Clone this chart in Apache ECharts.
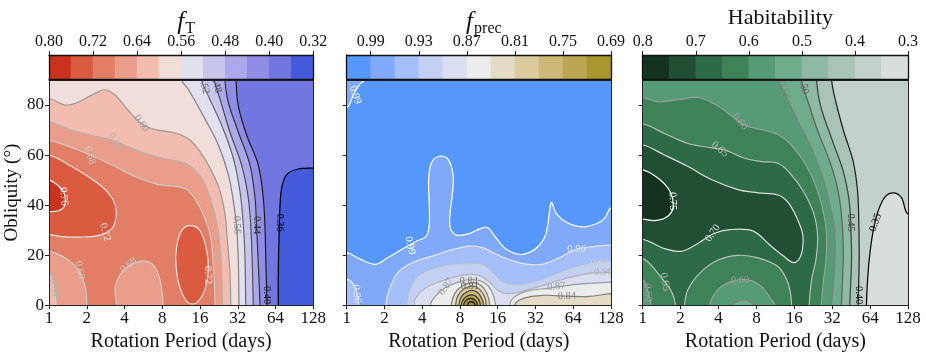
<!DOCTYPE html>
<html>
<head>
<meta charset="utf-8">
<script src="https://cdn.jsdelivr.net/npm/echarts@6.0.0/dist/echarts.min.js"></script>
<style>
html,body{margin:0;padding:0;background:#ffffff;}
#chart{width:926px;height:357px;}
</style>
</head>
<body>
<div id="chart"></div>
<script>
// ================= DATA =================
const periodTicks = [1, 2, 4, 8, 16, 32, 64, 128];
const obliquityTicks = [0, 20, 40, 60, 80];

// ---- f_T ----
const fT_binEdges = [0.80,0.76,0.72,0.68,0.64,0.60,0.56,0.52,0.48,0.44,0.40,0.36,0.32];
const fT_tickLabels = [0.80,0.72,0.64,0.56,0.48,0.40,0.32];
// contour lines: [rotation period (days), obliquity (deg)]
const fT_c036 = [[128,54.8],[97,54.4],[78.5,52.2],[71.6,46.9],[69.4,39],[68.2,25.9],[67.3,12.7],[67.3,0]];
const fT_c040 = [[31,90],[32.3,79.7],[37.7,67.9],[46.6,56.1],[51.1,42.9],[52.7,31.1],[53.7,15.4],[54.7,0]];
const fT_c044 = [[25.3,90],[26.9,81.1],[32.3,69.2],[40,56.1],[43.9,42.9],[45.2,31.1],[46.6,16.7],[48.1,0]];
const fT_c048 = [[20.8,90],[23.1,82.4],[27.7,69.2],[34.3,56.1],[38.8,42.9],[40.8,29.8],[41.8,15.4],[42.5,0]];
const fT_c052 = [[16.5,90],[18.6,83.7],[23.8,71.9],[29.5,58.7],[33.3,45.6],[35.4,32.4],[36.5,19.3],[37,0]];
const fT_c056 = [[11.4,90],[12.9,86.3],[17.5,74.5],[22.4,64],[26.9,52.2],[29.5,41.6],[31.3,31.1],[32.3,18],[32.7,0]];
const fT_c060 = [[1,82.6],[1.34,80],[1.71,81.1],[2.33,84.7],[2.8,86.1],[3.36,84],[4.29,77.8],[5.48,72.5],[7,70.2],[10.1,68.8],[13.3,66],[17,59.4],[20.4,52.2],[23.1,45.6],[25.3,36.4],[26.4,25.9],[27.7,12.7],[28.1,0]];
const fT_c064 = [[1,73.2],[1.52,69.9],[2.33,67.5],[3.16,66],[4.29,63.3],[5.82,60.7],[8.4,58.5],[10.1,57.7],[12.9,56.1],[16.5,50.8],[19.5,42],[22.1,31],[23.5,18],[24.1,0]];
const fT_c064b = [[1,13],[1.1,8.8],[1.17,0]];
const fT_c068 = [[1,65.9],[1.71,62],[3.16,56.1],[5.15,50.8],[7.44,48.2],[10.1,47.5],[12.5,46.2],[15,41.6],[17.3,35.1],[19.2,28.5],[20.2,19.3],[20.8,10.1],[21.1,0]];
const fT_c068b = [[1,21.5],[1.35,18.8],[1.72,14],[1.95,7],[2.0,0]];
const fT_c068m = [[3.46,0],[3.36,6.8],[3.68,12.1],[4.42,16],[5.65,17.6],[6.79,16],[7.67,10.1],[8.15,0]];
const fT_c072 = [[1,60],[1.52,55.4],[2.33,49.5],[2.97,44.9],[3.36,40.3],[3.42,35.1],[3.16,30.5],[2.47,27.8],[1.71,27.2],[1.26,27.4],[1,28.2]];
const fT_c072e = [[10.4,23.2],[11.4,29.8],[13.3,31.8],[16,29.8],[18.1,21.9],[18.6,14],[17.5,6.2],[15,0.9],[12.9,0.9],[11.1,6.8],[10.3,15.4]];
const fT_c076 = [[1,50],[1.19,47.6],[1.33,44.3],[1.33,39.7],[1.19,37.7],[1,37.4]];
// inline labels: [period, obliquity, level, angle]
const fT_labels = [[5.47,72.6,0.60,-55],[3.36,65.3,0.64,-65],[2.12,59.8,0.68,-75],[1.31,43.5,0.76,-85],[2.8,29.2,0.72,-75],
  [4.3,16,0.68,40],[1.75,14,0.68,-80],[1.1,7,0.64,-80],[18.5,12,0.72,-88],[31.4,32,0.56,-88],[45.2,32,0.44,-90],
  [68.8,33,0.36,-90],[54.3,4,0.40,-90],[17.2,88,0.52,-75],[21.5,88.5,0.48,-75]];

// ---- f_prec ----
const fP_binEdges = [1.02,0.99,0.96,0.93,0.90,0.87,0.84,0.81,0.78,0.75,0.72,0.69];
const fP_tickLabels = [0.99,0.93,0.87,0.81,0.75,0.69];
const fP_c099a = [[1,79],[1.13,84],[1.28,88.5],[1.39,90]];
const fP_c099 = [[1,21],[1.28,18.4],[1.7,16.3],[2.1,18.8],[2.8,22.5],[3.6,25.5],[4.3,27.5],[4.55,32],[4.55,40],[4.5,50],[4.75,57],[5.5,59.5],[6.4,58.5],[7.05,52],[6.95,44],[6.65,36],[6.7,31],[7.5,28],[9.3,28.5],[11.5,30.5],[13.2,31],[15.2,27.5],[18,23],[21.5,20.8],[25.5,20.3],[32,22.5],[38.5,28],[42.8,41],[46.5,37],[56,33.2],[75,31.3],[98,32.5],[115,35],[128,38.8]];
const fP_c096 = [[2.05,0],[2.2,6.6],[2.57,13.1],[3.38,17.1],[4.88,19.7],[7.04,22.3],[9.56,23.6],[12.2,23],[15.6,20.3],[19.9,18.1],[27,16.4],[36.7,16.4],[49.9,19],[67.7,22.3],[92,23.4],[128,24]];
const fP_c096b = [[1,10.5],[1.16,7.2],[1.25,0]];
const fP_c093 = [[3.08,0],[3.18,5.2],[3.59,10.5],[4.59,13.8],[6.62,15.7],[9.56,16.4],[12.2,15.7],[14.7,12.5],[17.1,9.2],[21.2,7.9],[28.8,8.5],[41.5,11.2],[59.9,14.2],[86.5,16.4],[128,17.3]];
const fP_c090 = [[3.42,0],[3.59,3.3],[4.18,6.6],[5.35,9.2],[7.04,11.1],[9,12.2],[11.49,11.8],[13.8,9.2],[16.08,5.9],[18.74,4.6],[23.9,5.3],[36.7,7.9],[59.9,11.1],[92,12.9],[128,13.1]];
const fP_c087 = [[4.64,0],[5.03,3.3],[6.04,6.8],[7.72,9.2],[9.86,10.2],[12.2,9.2],[14.2,5.9],[15.4,0]];
const fP_c087r = [[19.9,0],[21.8,3.3],[27,5.5],[41.5,6.8],[67.7,8.3],[128,9.2]];
const fP_c084 = [[6.83,0],[7.26,4.6],[8.46,7.8],[10.16,9],[11.84,7.8],[13.14,4.6],[13.8,0]];
const fP_c084r = [[21.8,0],[25.4,2.6],[36.7,3.9],[59.9,3.5],[86.5,3.5],[128,4.6]];
const fP_c081 = [[7.39,0],[7.72,3.9],[8.72,6.6],[10.16,7.6],[11.49,6.3],[12.59,3.3],[12.98,0]];
const fP_c078 = [[7.86,0],[8.2,3.3],[9.1,5.3],[10.29,5.8],[11.35,4.5],[12.06,2],[12.36,0]];
const fP_c075 = [[8.2,0],[8.61,2.6],[9.56,4.0],[10.48,3.8],[11.35,2],[11.63,0]];
const fP_c072 = [[8.56,0],[8.99,2],[9.86,2.7],[10.67,1.7],[11,0]];
const fP_c069 = [[9.2,0],[9.44,1],[10.04,1.3],[10.54,0]];
const fP_labels = [[1.17,84,0.99,-70],[3.2,23.8,0.99,-78],[1.2,4.5,0.96,-85],[68,22.5,0.96,0],[104,16.8,0.93,0],
  [111,13,0.90,0],[47,7.4,0.87,5],[57,3.6,0.84,3],[6.2,7.4,0.87,55],[9.4,9.6,0.84,0],[9.6,7.6,0.81,0]];

// ---- Habitability ----
const H_binEdges = [0.80,0.75,0.70,0.65,0.60,0.55,0.50,0.45,0.40,0.35,0.30];
const H_tickLabels = [0.8,0.7,0.6,0.5,0.4,0.3];
const H_c035 = [[128,36.4],[113.5,43],[97.4,44.9],[83.7,43.2],[74.1,37.7],[67.6,29.8],[62.8,18],[60.6,7.5],[59.8,0]];
const H_c040 = [[31.6,90],[34.2,81.1],[39.6,69.2],[46.9,57.4],[50.8,45.6],[52,32.4],[52.3,18],[51.4,0]];
const H_c045 = [[24,90],[25.8,79.7],[31.6,66.6],[39.1,53.5],[43.6,41.6],[44.9,31.1],[45.5,18],[44.1,0]];
const H_c050 = [[18.25,90],[20.6,81.1],[24.7,69.2],[30.6,57.4],[35.6,45.6],[38.4,32.4],[39.1,19.3],[37.9,0]];
const H_c055 = [[11.92,90],[13.45,85],[16.66,74.5],[21.3,64],[26.3,52.2],[30.6,40.3],[33.2,31.1],[33.6,19.3],[32.6,8.8],[31.6,0]];
const H_c055m = [[5.21,0],[5.71,1.6],[6.65,2],[7.51,0]];
const H_c060 = [[1,83],[1.32,81.3],[1.91,82.1],[2.75,83],[3.73,80.4],[5.05,75.8],[6.45,71.9],[9.29,69.9],[11.84,68.2],[14.74,64.6],[19.4,56.7],[24,46.9],[27.4,36.4],[28.8,28.5],[28.5,18],[27.1,8.8],[26.3,0]];
const H_c060m = [[3.4,0],[3.96,6.2],[5.05,9.4],[6.85,10.1],[8.74,7.5],[10.5,2.2],[11.16,0]];
const H_c060b = [[1,10.1],[1.1,5.5],[1.16,0]];
const H_c065 = [[1,72.5],[1.49,68.6],[2.29,64.6],[3.1,63.3],[4.48,62],[6.45,58.7],[8.74,57.4],[11.84,56.7],[14.74,52.8],[18.8,45.6],[22.9,36.4],[24.5,27.2],[23.7,18],[21.9,10.1],[21,0]];
const H_c065m = [[2.15,0],[2.29,6.2],[2.83,12.7],[3.96,18],[5.71,19.9],[8.23,18.9],[11.84,15.4],[13.9,10.1],[14.9,4.8],[15.2,0]];
const H_c065b = [[1,18.6],[1.32,12.7],[1.69,5.5],[1.82,0]];
const H_c070 = [[1,64],[1.49,60],[2.29,55.4],[3.51,50.2],[5.71,46.2],[8.23,44.9],[11.84,44],[14.3,41],[16.66,35.1],[18.6,28.5],[18.5,21.9],[17.2,18],[15.5,17.1],[13.05,19.7],[10.23,24],[7.55,29.6],[4.93,30.2],[3.64,28.5],[2.68,24.3],[2.03,21.5],[1.49,22.6],[1,26.3]];
const H_c075 = [[1,54.1],[1.32,50.8],[1.64,45.6],[1.74,39],[1.54,35.1],[1.24,33.8],[1,34.4]];
const H_labels = [[5.93,73.3,0.60,-50],[4.1,62.3,0.65,-40],[1.73,41.5,0.75,-88],[3.6,28.8,0.70,55],[5.93,9.8,0.60,0],
  [1.5,9.3,0.65,-80],[1.1,5,0.60,-85],[44.5,33,0.45,-90],[70.5,33,0.35,70],[51.8,4,0.40,-90],[13.2,86,0.55,-75],[19,88,0.50,-80]];

// ================= STYLE =================
const SERIF = "'Liberation Serif', 'DejaVu Serif', serif";
const AX = '#222222';
const fT_colors = ['#c9321f','#da5b40','#e27d66','#ea9e8a','#f2bdb0','#f1ddda','#e1e0ef','#c9c6ee','#aba9ec','#8f8de6','#7276e0','#445cdc'];
const fP_colors = ['#5597fb','#80a9fa','#a3bef8','#c2d0f5','#dadef2','#ececec','#e5dcc6','#dbcb9f','#ccb977','#bca652','#aa952e'];
const H_colors = ['#14331f','#214f33','#2c6b45','#3e8257','#559b75','#6fac8c','#8eb9a3','#a8c4b6','#c3d1cc','#d8dedb'];
const SMOOTH = 0.35;

// ================= helpers =================
const XL = 0.6, XR = 200, YB = -10, YT = 100;
const CORNER = {BL:[XL,YB], TL:[XL,YT], BR:[XR,YB], TR:[XR,YT]};
function outside(p){
  if (p[1] <= 0) return [p[0], YB];
  if (p[1] >= 90) return [p[0], YT];
  if (p[0] <= 1) return [XL, p[1]];
  if (p[0] >= 128) return [XR, p[1]];
  return null;
}
function ext(line){
  const a = outside(line[0]), b = outside(line[line.length-1]);
  const out = [];
  if (a) out.push(a);
  line.forEach(p => out.push(p));
  if (b) out.push(b);
  return out;
}
const rev = a => a.slice().reverse();
function region(parts){
  let pts = [];
  parts.forEach(p => { if (typeof p === 'string') pts.push(CORNER[p]); else pts = pts.concat(ext(p)); });
  return pts;
}
function findIdx(edges, L){ return edges.findIndex(e => Math.abs(e - L) < 1e-6); }

// region specs: level, side of the level that is filled, outline parts
const fT_regions = [
  {level:0.40, side:'below', bg:true, parts:['BL','TL','TR','BR']},
  {level:0.36, side:'below', parts:[fT_c036,'BR']},
  {level:0.40, side:'above', parts:[fT_c040,'BL','TL']},
  {level:0.44, side:'above', parts:[fT_c044,'BL','TL']},
  {level:0.48, side:'above', parts:[fT_c048,'BL','TL']},
  {level:0.52, side:'above', parts:[fT_c052,'BL','TL']},
  {level:0.56, side:'above', parts:[fT_c056,'BL','TL']},
  {level:0.60, side:'above', parts:[fT_c060,'BL']},
  {level:0.64, side:'above', parts:[fT_c064, rev(fT_c064b)]},
  {level:0.68, side:'above', parts:[fT_c068, rev(fT_c068m), rev(fT_c068b)]},
  {level:0.72, side:'above', parts:[fT_c072]},
  {level:0.72, side:'above', parts:[fT_c072e]},
  {level:0.76, side:'above', parts:[fT_c076]}
];
const fP_regions = [
  {level:0.99, side:'above', bg:true, parts:['BL','TL','TR','BR']},
  {level:0.99, side:'below', parts:[fP_c099a,'TL']},
  {level:0.99, side:'below', parts:[fP_c099,'BR','BL']},
  {level:0.96, side:'below', parts:[fP_c096,'BR']},
  {level:0.96, side:'below', parts:[fP_c096b,'BL']},
  {level:0.93, side:'below', parts:[fP_c093,'BR']},
  {level:0.90, side:'below', parts:[fP_c090,'BR']},
  {level:0.87, side:'below', parts:[fP_c087]},
  {level:0.87, side:'below', parts:[fP_c087r,'BR']},
  {level:0.84, side:'below', parts:[fP_c084]},
  {level:0.84, side:'below', parts:[fP_c084r,'BR']},
  {level:0.81, side:'below', parts:[fP_c081]},
  {level:0.78, side:'below', parts:[fP_c078]},
  {level:0.75, side:'below', parts:[fP_c075]},
  {level:0.72, side:'below', parts:[fP_c072]},
  {level:0.69, side:'below', parts:[fP_c069]}
];
const H_regions = [
  {level:0.40, side:'below', bg:true, parts:['BL','TL','TR','BR']},
  {level:0.35, side:'below', parts:[H_c035,'BR']},
  {level:0.40, side:'above', parts:[H_c040,'BL','TL']},
  {level:0.45, side:'above', parts:[H_c045,'BL','TL']},
  {level:0.50, side:'above', parts:[H_c050,'BL','TL']},
  {level:0.55, side:'above', parts:[H_c055, rev(H_c055m),'BL','TL']},
  {level:0.60, side:'above', parts:[H_c060, rev(H_c060m), rev(H_c060b)]},
  {level:0.65, side:'above', parts:[H_c065, rev(H_c065m), rev(H_c065b)]},
  {level:0.70, side:'above', parts:[H_c070]},
  {level:0.75, side:'above', parts:[H_c075]}
];

const panels = [
  {left:49, width:264.3, edges:fT_binEdges, colors:fT_colors, ticks:fT_tickLabels, dec:2, lineLo:0.36, lineHi:0.76,
   regions:fT_regions, labels:fT_labels, title:'{f|f}{s|T}', yLabels:true},
  {left:346.7, width:264.3, edges:fP_binEdges, colors:fP_colors, ticks:fP_tickLabels, dec:2, lineLo:0.69, lineHi:0.99,
   regions:fP_regions, labels:fP_labels, title:'{f|f}{s|prec}', yLabels:false},
  {left:642.7, width:265.4, edges:H_binEdges, colors:H_colors, ticks:H_tickLabels, dec:1, lineLo:0.35, lineHi:0.75,
   regions:H_regions, labels:H_labels, title:'Habitability', yLabels:false}
];

const PLOT_TOP = 80, PLOT_H = 228.3, CB_TOP = 55, CB_H = 24;
const grid = [], xAxis = [], yAxis = [], series = [], title = [];

function grayFor(p, L){
  let t = (L - p.lineLo) / (p.lineHi - p.lineLo);
  t = Math.max(0, Math.min(1, t));
  const g = Math.round(t * 255);
  return 'rgb(' + g + ',' + g + ',' + g + ')';
}

panels.forEach((p, k) => {
  // resolve polygons
  const polys = p.regions.map(r => {
    let bin = r.side === 'above' ? findIdx(p.edges, r.level) - 1 : findIdx(p.edges, r.level);
    bin = Math.max(0, Math.min(p.colors.length - 1, bin));
    return {pts: region(r.parts), fill: p.colors[bin], stroke: r.bg ? null : grayFor(p, r.level)};
  });

  // ---- plot grid ----
  const gi = grid.length;
  grid.push({left:p.left, top:PLOT_TOP, width:p.width, height:PLOT_H, containLabel:false});
  const xi = xAxis.length, yi = yAxis.length;
  xAxis.push({gridIndex:gi, type:'log', logBase:2, min:1, max:128, position:'bottom', z:10,
    axisLine:{show:true, onZero:false, lineStyle:{color:AX, width:1}},
    axisTick:{show:true, length:4, lineStyle:{color:AX}},
    axisLabel:{show:true, margin:5, fontFamily:SERIF, fontSize:17, color:'#111',
      formatter: v => String(Math.round(v))},
    splitLine:{show:false}, minorTick:{show:false}, minorSplitLine:{show:false},
    name:'Rotation Period (days)', nameLocation:'middle', nameGap:23,
    nameTextStyle:{fontFamily:SERIF, fontSize:20, color:'#111'}});
  xAxis.push({gridIndex:gi, type:'log', logBase:2, min:1, max:128, position:'top', z:10,
    axisLine:{show:true, onZero:false, lineStyle:{color:AX, width:1}}, axisTick:{show:false},
    axisLabel:{show:false}, splitLine:{show:false}});
  yAxis.push({gridIndex:gi, type:'value', min:0, max:90, position:'left', z:10,
    axisLine:{show:true, onZero:false, lineStyle:{color:AX, width:1}},
    axisTick:{show:true, length:4, lineStyle:{color:AX}, customValues:obliquityTicks},
    axisLabel:{show:p.yLabels, customValues:obliquityTicks, margin:5, fontFamily:SERIF, fontSize:17, color:'#111'},
    splitLine:{show:false},
    name: p.yLabels ? 'Obliquity (°)' : '', nameLocation:'middle', nameGap:27,
    nameTextStyle:{fontFamily:SERIF, fontSize:19, color:'#111'}});
  yAxis.push({gridIndex:gi, type:'value', min:0, max:90, position:'right', z:10,
    axisLine:{show:true, onZero:false, lineStyle:{color:AX, width:1}}, axisTick:{show:false},
    axisLabel:{show:false}, splitLine:{show:false}});

  // filled contour bands
  series.push({type:'custom', xAxisIndex:xi, yAxisIndex:yi, clip:true, z:1, silent:true,
    data: polys.map(q => q.pts[0]),
    renderItem: (params, api) => {
      const q = polys[params.dataIndex];
      return {type:'polygon', shape:{points:q.pts.map(pt => api.coord(pt)), smooth:SMOOTH},
        style:{fill:q.fill, stroke:q.fill, lineWidth:0.6}};
    }});
  // contour lines
  const linePolys = polys.filter(q => q.stroke);
  series.push({type:'custom', xAxisIndex:xi, yAxisIndex:yi, clip:true, z:2, silent:true,
    data: linePolys.map(q => q.pts[0]),
    renderItem: (params, api) => {
      const q = linePolys[params.dataIndex];
      return {type:'polygon', shape:{points:q.pts.map(pt => api.coord(pt)), smooth:SMOOTH},
        style:{fill:'none', stroke:q.stroke, lineWidth:1.2}};
    }});
  // contour labels
  series.push({type:'custom', xAxisIndex:xi, yAxisIndex:yi, clip:true, z:3, silent:true,
    data: p.labels.map(l => [l[0], l[1]]),
    renderItem: (params, api) => {
      const l = p.labels[params.dataIndex];
      const c = api.coord([l[0], l[1]]);
      return {type:'text', x:c[0], y:c[1], rotation:l[3] * Math.PI / 180,
        style:{text:l[2].toFixed(2), fill:grayFor(p, l[2]), fontSize:10.5, fontFamily:SERIF,
          align:'center', verticalAlign:'middle'}};
    }});

  // ---- colour bar ----
  const cg = grid.length;
  grid.push({left:p.left, top:CB_TOP, width:p.width, height:CB_H});
  const cxi = xAxis.length, cyi = yAxis.length;
  const lo = p.edges[p.edges.length - 1], hi = p.edges[0];
  xAxis.push({gridIndex:cg, type:'value', min:lo, max:hi, inverse:true, position:'top', z:10,
    axisLine:{show:true, onZero:false, lineStyle:{color:'#111', width:1.3}},
    axisTick:{show:true, length:4, inside:false, lineStyle:{color:AX}, customValues:p.ticks},
    axisLabel:{show:true, customValues:p.ticks, margin:5, fontFamily:SERIF, fontSize:16, color:'#111',
      formatter: v => Number(v).toFixed(p.dec)},
    splitLine:{show:false}});
  xAxis.push({gridIndex:cg, type:'value', min:lo, max:hi, inverse:true, position:'bottom', z:10,
    axisLine:{show:true, onZero:false, lineStyle:{color:'#111', width:1.3}}, axisTick:{show:false},
    axisLabel:{show:false}, splitLine:{show:false}});
  yAxis.push({gridIndex:cg, type:'value', min:0, max:1, position:'left', z:10,
    axisLine:{show:true, onZero:false, lineStyle:{color:'#111', width:1.3}}, axisTick:{show:false},
    axisLabel:{show:false}, splitLine:{show:false}});
  yAxis.push({gridIndex:cg, type:'value', min:0, max:1, position:'right', z:10,
    axisLine:{show:true, onZero:false, lineStyle:{color:'#111', width:1.3}}, axisTick:{show:false},
    axisLabel:{show:false}, splitLine:{show:false}});
  const bins = [];
  for (let i = 0; i < p.edges.length - 1; i++) bins.push([p.edges[i], p.edges[i + 1], i]);
  series.push({type:'custom', xAxisIndex:cxi, yAxisIndex:cyi, clip:true, z:1, silent:true,
    encode:{x:[0,1], y:-1},
    data: bins,
    renderItem: (params, api) => {
      const a = api.coord([api.value(0), 1]);
      const b = api.coord([api.value(1), 0]);
      return {type:'rect', shape:{x:Math.min(a[0], b[0]) - 0.3, y:Math.min(a[1], b[1]),
        width:Math.abs(b[0] - a[0]) + 0.6, height:Math.abs(b[1] - a[1])},
        style:{fill:p.colors[api.value(2)]}};
    }});

  // ---- title ----
  title.push({text:p.title, left:p.left + p.width / 2, top:2, textAlign:'center',
    textStyle:{fontFamily:SERIF, fontSize:22, fontWeight:'normal', color:'#111',
      rich:{
        f:{fontFamily:SERIF, fontStyle:'italic', fontSize:25, color:'#111'},
        s:{fontFamily:SERIF, fontSize:16, color:'#111', padding:[14,0,0,1]}
      }}});
});

const chart = echarts.init(document.getElementById('chart'), null, {renderer:'canvas'});
chart.setOption({
  animation:false,
  backgroundColor:'#ffffff',
  textStyle:{fontFamily:SERIF},
  title, grid, xAxis, yAxis, series
});
</script>
</body>
</html>
